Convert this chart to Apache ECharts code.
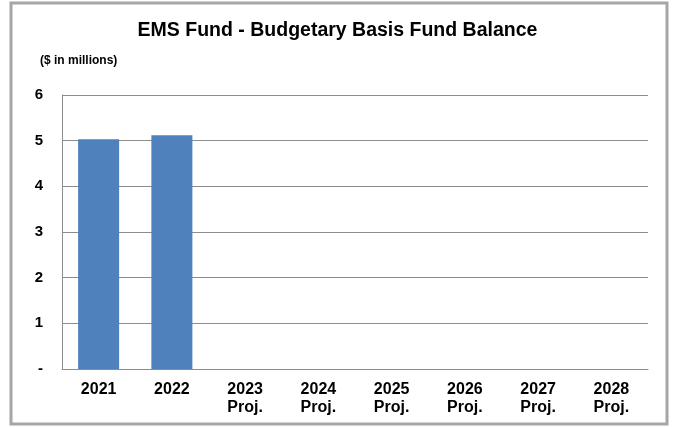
<!DOCTYPE html>
<html>
<head>
<meta charset="utf-8">
<script src="https://cdn.jsdelivr.net/npm/echarts@6/dist/echarts.min.js"></script>
<style>
  html, body { margin: 0; padding: 0; background: #ffffff; }
  #chart { width: 675px; height: 427px; }
</style>
</head>
<body>
<div id="chart"></div>
<script>
const categories = ['2021', '2022', '2023\nProj.', '2024\nProj.', '2025\nProj.', '2026\nProj.', '2027\nProj.', '2028\nProj.']
const balance = [5.03, 5.12, null, null, null, null, null, null]
const yTicks = [0, 1, 2, 3, 4, 5, 6]

const font = '"Liberation Sans", Arial, sans-serif'
const chart = echarts.init(document.getElementById('chart'))

chart.setOption({
  animation: false,
  graphic: [
    {
      type: 'rect',
      shape: { x: 11, y: 3, width: 656, height: 421 },
      style: { fill: 'none', stroke: '#a6a6a6', lineWidth: 3 },
    },
  ],
  title: [
    {
      text: 'EMS Fund - Budgetary Basis Fund Balance',
      left: 'center',
      top: 16,
      textStyle: { fontFamily: font, fontSize: 19.5, fontWeight: 'bold', color: '#000' },
    },
    {
      text: '($ in millions)',
      left: 35,
      top: 50,
      textStyle: { fontFamily: font, fontSize: 12, fontWeight: 'bold', color: '#000' },
    },
  ],
  grid: { left: 62, right: 27, top: 95, bottom: 58 },
  xAxis: {
    type: 'category',
    data: categories,
    axisLine: { lineStyle: { color: '#8c8c8c', width: 1 } },
    axisTick: { show: false },
    axisLabel: {
      fontFamily: font,
      fontSize: 16,
      fontWeight: 'bold',
      color: '#000',
      margin: 12,
      lineHeight: 18,
      interval: 0,
    },
  },
  yAxis: {
    type: 'value',
    min: yTicks[0],
    max: yTicks[yTicks.length - 1],
    interval: 1,
    axisLine: { show: true, lineStyle: { color: '#8c8c8c', width: 1 } },
    axisTick: { show: false },
    splitLine: { lineStyle: { color: '#8c8c8c', width: 1 } },
    axisLabel: {
      fontFamily: font,
      fontSize: 15,
      fontWeight: 'bold',
      color: '#000',
      margin: 19,
      formatter: (v) => (v === 0 ? '-' : String(v)),
    },
  },
  series: [
    {
      type: 'bar',
      data: balance,
      barWidth: '56%',
      itemStyle: { color: '#4f81bd' },
    },
  ],
})
</script>
</body>
</html>
